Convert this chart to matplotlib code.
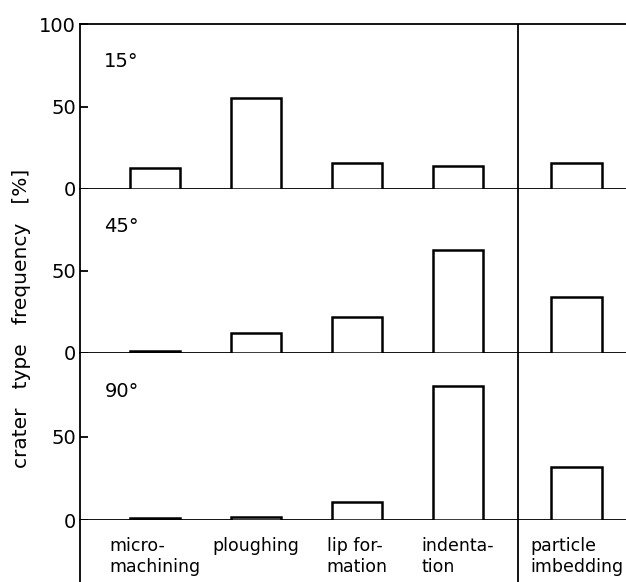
import numpy as np
import matplotlib.pyplot as plt

# crater type frequency [%] for three impact angles
categories = ["micro-\nmachining", "ploughing", "lip for-\nmation", "indenta-\ntion", "particle\nimbedding"]
angles = ["15°", "45°", "90°"]
freq_15 = [13, 55, 16, 14, 16]
freq_45 = [1, 12, 22, 63, 34]
freq_90 = [1, 2, 11, 80, 32]

positions = [0, 1, 2, 3, 4.17]
divider = 3.59
xlim = (-0.74, 4.66)

plt.rcParams["font.family"] = ["DejaVu Sans"]
plt.rcParams["font.size"] = 13

fig = plt.figure(figsize=(6.26, 5.82), dpi=100)

left = 80 / 626
rows = [(24, 189), (189, 353), (353, 520)]
lw = 1.3

for i, (freqs, label) in enumerate(zip([freq_15, freq_45, freq_90], angles)):
    top, bot = rows[i]
    ax = fig.add_axes([left, 1 - bot / 582, 1 - left, (bot - top) / 582])
    ax.bar(positions, freqs, width=0.5, facecolor="white", edgecolor="black",
           linewidth=1.8, zorder=3)
    ax.axvline(divider, color="black", linewidth=lw)
    ax.set_xlim(*xlim)
    ax.set_ylim(0, 100)
    ax.set_yticks([0, 50, 100] if i == 0 else [0, 50])
    ax.tick_params(axis="y", direction="in", length=6, width=lw, pad=3, labelsize=14)
    ax.set_xticks([])
    ax.spines["right"].set_visible(False)
    ax.spines["top"].set_visible(i == 0)
    for side in ["left", "bottom", "top"]:
        ax.spines[side].set_linewidth(lw)
    ax.text(-0.5, 77, label, fontsize=14, ha="left", va="center")

# category label strip below the panels
strip = fig.add_axes([left, 0, 1 - left, 1 - 520 / 582])
strip.set_xlim(*xlim)
strip.set_ylim(0, 1)
strip.set_xticks([])
strip.set_yticks([])
for side in ["right", "top", "bottom"]:
    strip.spines[side].set_visible(False)
strip.spines["left"].set_linewidth(lw)
strip.axvline(divider, color="black", linewidth=lw)
for pos, cat in zip(positions, categories):
    strip.text(pos, 0.72, cat, ha="center", va="top", multialignment="left",
               fontsize=12.5, linespacing=1.2)

fig.text(22 / 626, 1 - 318 / 582, "crater   type   frequency   [%]", rotation=90,
         ha="center", va="center", fontsize=14.5)

fig.savefig("out.png", dpi=100)
